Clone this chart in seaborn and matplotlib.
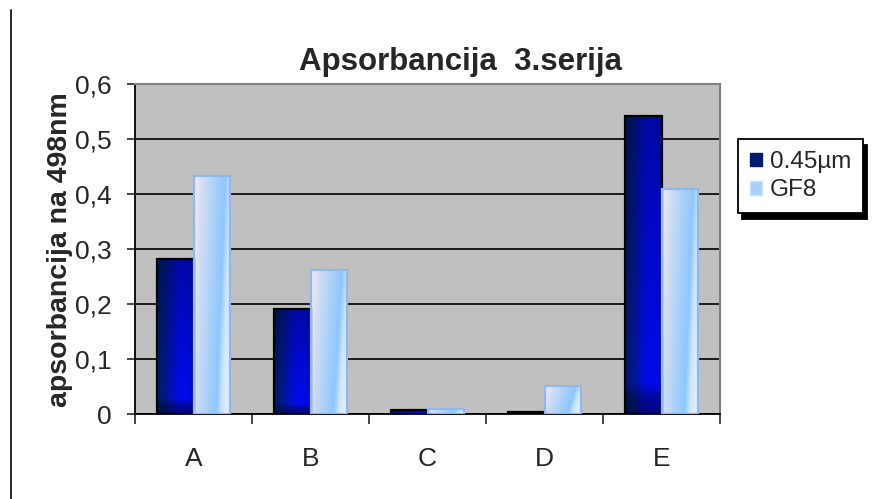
import numpy as np
import pandas as pd
import matplotlib
matplotlib.use("Agg")
import matplotlib.pyplot as plt
from matplotlib.lines import Line2D
from matplotlib.patches import Patch
import seaborn as sns

sns.set_style("white")
plt.rcParams['font.family'] = ['Liberation Sans', 'DejaVu Sans']

# data
uzorci = ['A', 'B', 'C', 'D', 'E']
filteri = ['0.45µm', 'GF8']
aps_045 = [0.281, 0.191, 0.008, 0.003, 0.542]
aps_gf8 = [0.433, 0.261, 0.010, 0.051, 0.409]
y_ticks = [0, 0.1, 0.2, 0.3, 0.4, 0.5, 0.6]
y_labels = ['0', '0,1', '0,2', '0,3', '0,4', '0,5', '0,6']

df = pd.DataFrame({
    'uzorak': uzorci * 2,
    'filter': [filteri[0]] * 5 + [filteri[1]] * 5,
    'aps': aps_045 + aps_gf8,
})

fig = plt.figure(figsize=(8.75, 4.99), dpi=100)
ax = fig.add_axes([135/875, 1-414/499, 585/875, 330/499])
ax.set_facecolor('#c0c0c0')

sns.barplot(data=df, x='uzorak', y='aps', hue='filter', hue_order=filteri,
            palette=['#001a70', '#a8d0f8'], width=0.62, legend=False, ax=ax)


def grad_dark():
    xs = np.linspace(0, 1, 120)
    ys = np.linspace(0, 1, 200)  # 0 = top
    r = np.zeros_like(xs)
    g = np.interp(xs, [0, 0.55, 0.8, 1], [0.12, 0.05, 0.04, 0.05])
    b = np.interp(xs, [0, 0.55, 0.8, 1], [0.36, 0.88, 0.95, 0.78])
    f = np.interp(ys, [0, 0.5, 0.9, 0.94, 1], [0.7, 0.88, 1.0, 0.7, 0.55])
    img = np.stack([np.outer(f, r), np.outer(f, g), np.outer(f, b)], axis=-1)
    return np.clip(img, 0, 1)


def grad_light():
    xs = np.linspace(0, 1, 120)
    ys = np.linspace(0, 1, 200)
    X, Y = np.meshgrid(xs, ys)
    t = X + 0.25 * Y
    stops = [0, 0.3, 0.85, 1.0, 1.25]
    r = np.interp(t, stops, [0.95, 0.80, 0.55, 0.80, 0.94])
    g = np.interp(t, stops, [0.91, 0.86, 0.78, 0.90, 0.96])
    b = np.interp(t, stops, [0.97, 0.95, 1.00, 1.00, 1.00])
    return np.stack([r, g, b], axis=-1)


images = [grad_dark(), grad_light()]
edges = ['black', '#90b8ea']
for cont, img, ec in zip(ax.containers, images, edges):
    for p in cont.patches:
        x0, y0 = p.get_x(), p.get_y()
        w, h = p.get_width(), p.get_height()
        im = ax.imshow(img, extent=[x0, x0 + w, y0, y0 + h], origin='upper',
                       aspect='auto', zorder=2.5, interpolation='bilinear')
        im.set_clip_path(p)
        p.set_facecolor('none')
        p.set_edgecolor(ec)
        p.set_linewidth(1.6)
        p.set_zorder(3)

ax.set_xlim(-0.5, 4.5)
ax.set_ylim(0, 0.6)
ax.set_aspect('auto')

ax.set_yticks(y_ticks)
ax.set_yticklabels(y_labels, fontsize=19)
ax.yaxis.grid(True, color='#1a1a1a', linewidth=1.4)
ax.set_axisbelow(True)
ax.tick_params(axis='y', direction='out', length=6, width=1.2, pad=11, left=True)

ax.set_xticks(range(5))
ax.set_xticklabels(uzorci, fontsize=19)
ax.tick_params(axis='x', which='major', length=0, pad=24)
ax.set_xticks(np.arange(-0.5, 5, 1), minor=True)
ax.tick_params(axis='x', which='minor', direction='out', length=7, width=1.2, bottom=True)

ax.set_xlabel('')
ax.set_ylabel('')
for s in ['top', 'right']:
    ax.spines[s].set_color('#808080')
    ax.spines[s].set_linewidth(1.5)
for s in ['left', 'bottom']:
    ax.spines[s].set_color('black')
    ax.spines[s].set_linewidth(1.3)

fig.text(461/875, 1-70/499, 'Apsorbancija  3.serija', fontsize=22.5,
         fontweight='bold', ha='center', va='baseline')
fig.text(60/875, 1-250/499, 'apsorbancija na 498nm', fontsize=20.5,
         fontweight='bold', rotation=90, ha='center', va='center')

handles = [Patch(facecolor='#001a70', edgecolor='#001a70'),
           Patch(facecolor='#a8d0f8', edgecolor='#c8e0fa')]
leg = fig.legend(handles, filteri, loc='upper left',
                 bbox_to_anchor=(738/875, 1-139/499), borderaxespad=0,
                 fontsize=17.5, frameon=True, fancybox=False,
                 shadow={'color': 'black', 'alpha': 1, 'ox': 3, 'oy': -4},
                 handlelength=0.5, handleheight=0.5, handletextpad=0.3,
                 labelspacing=0.25, borderpad=0.5)
leg.get_frame().set_edgecolor('black')
leg.get_frame().set_linewidth(1.3)
leg.get_frame().set_facecolor('white')

fig.add_artist(Line2D([11/875, 11/875], [0, 1-10/499], color='black', linewidth=1.2))

fig.savefig('out.png', dpi=100)
